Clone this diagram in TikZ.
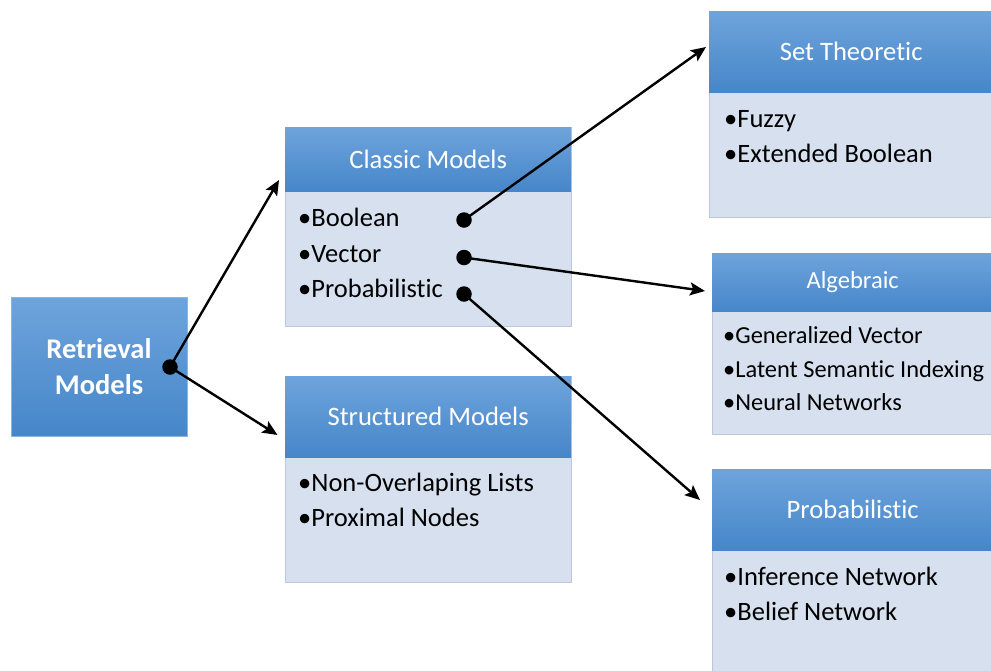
\documentclass[tikz,border=0pt]{standalone}
\usepackage{fontspec}
\setmainfont{Carlito}[Ligatures={NoCommon}]
\usetikzlibrary{arrows.meta}

\definecolor{hdtop}{HTML}{6EA4DC}
\definecolor{hdbot}{HTML}{4686C9}
\definecolor{bodyfill}{HTML}{D6E0EE}
\definecolor{edgeline}{HTML}{BCC8D8}

\tikzset{
  panelbody/.style={draw=edgeline, line width=0.8pt, fill=bodyfill,
    anchor=north west, inner sep=0pt},
  panelhead/.style={shading=axis, top color=hdtop, bottom color=hdbot,
    anchor=north west, inner sep=0pt, text=white,
    font=\fontsize{26.6}{30}\selectfont},
  item/.style={anchor=base west, inner sep=0pt,
    font=\fontsize{26.5}{32}\selectfont},
  smallitem/.style={item, font=\fontsize{24.4}{30}\selectfont},
  joint/.style={circle, fill=black, inner sep=0pt, minimum size=15.5pt},
  link/.style={line width=2.4pt, -{Stealth[length=15pt,width=13pt,inset=3pt]}}
}

\begin{document}
\begin{tikzpicture}[x=1pt,y=-1pt]
\useasboundingbox (0,0) rectangle (991,670);

% root box
\node[shading=axis, top color=hdtop, bottom color=hdbot, draw=hdtop!80,
      line width=0.8pt, minimum width=176pt, minimum height=139pt,
      text=white, align=center, inner sep=0pt,
      font=\bfseries\fontsize{28.5}{36}\selectfont]
  (root) at (99,366.5) {Retrieval\\Models};

% Classic Models
\node[panelbody, minimum width=286pt, minimum height=199pt] (classic) at (285,127) {};
\node[panelhead, minimum width=286pt, minimum height=64pt] (classicH) at (285,127) {Classic Models};
\node[item] (c1) at (298,226) {•Boolean};
\node[item] (c2) at (298,262) {•Vector};
\node[item] (c3) at (298,297.5) {•Probabilistic};

% Structured Models
\node[panelbody, minimum width=286pt, minimum height=206pt] (struct) at (285,376) {};
\node[panelhead, minimum width=286pt, minimum height=81pt] (structH) at (285,376) {Structured Models};
\node[item] (s1) at (298,491) {•Non-Overlaping Lists};
\node[item] (s2) at (298,526) {•Proximal Nodes};

% Set Theoretic
\node[panelbody, minimum width=284pt, minimum height=206pt] (sett) at (709,11) {};
\node[panelhead, minimum width=284pt, minimum height=81pt] (settH) at (709,11) {Set Theoretic};
\node[item] (t1) at (724,127.5) {•Fuzzy};
\node[item] (t2) at (724,162.5) {•Extended Boolean};

% Algebraic
\node[panelbody, minimum width=281pt, minimum height=181pt] (alg) at (712,253) {};
\node[panelhead, minimum width=281pt, minimum height=58pt,
      font=\fontsize{24.6}{28}\selectfont] (algH) at (712,253) {Algebraic};
\node[smallitem] (a1) at (723,343) {•Generalized Vector};
\node[smallitem] (a2) at (723,377) {•Latent Semantic Indexing};
\node[smallitem] (a3) at (723,410.5) {•Neural Networks};

% Probabilistic
\node[panelbody, minimum width=281pt, minimum height=203pt] (prob) at (712,469) {};
\node[panelhead, minimum width=281pt, minimum height=81pt] (probH) at (712,469) {Probabilistic};
\node[item] (p1) at (724,585) {•Inference Network};
\node[item] (p2) at (724,620) {•Belief Network};

% arrow tips
\coordinate (toClassic) at (279,180);
\coordinate (toStruct) at (277.5,435);
\coordinate (toSet) at (706,47);
\coordinate (toAlg) at (705,291);
\coordinate (toProb) at (700,500);

% connectors
\draw[link] (170,367) coordinate (rj) -- (toClassic);
\draw[link] (rj) -- (toStruct);
\draw[link] (464,220) coordinate (bj) -- (toSet);
\draw[link] (464,257.5) coordinate (vj) -- (toAlg);
\draw[link] (464,294) coordinate (pj) -- (toProb);

% joints
\node[joint] (rootdot) at (rj) {};
\node[joint] (booldot) at (bj) {};
\node[joint] (vecdot) at (vj) {};
\node[joint] (probdot) at (pj) {};
\end{tikzpicture}
\end{document}
